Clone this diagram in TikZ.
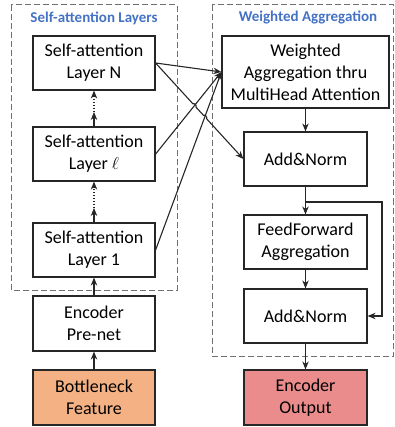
\documentclass[tikz,border=0pt]{standalone}
\usepackage{fontspec}
\setmainfont{Carlito}
\usetikzlibrary{arrows.meta,calc}
\definecolor{titleblue}{HTML}{4472C4}
\definecolor{bnfill}{HTML}{F4B183}
\definecolor{eofill}{HTML}{EA8C8C}
\definecolor{dashgray}{HTML}{707070}
\definecolor{linedark}{HTML}{262626}
\begin{document}
\begin{tikzpicture}[x=1pt,y=-1pt,
  box/.style={draw=linedark,line width=1.2pt,minimum width=122pt,minimum height=54pt,align=center,inner sep=0pt,font=\fontsize{18}{22}\selectfont},
  dashbox/.style={draw=dashgray,line width=1pt,dash pattern=on 6pt off 3pt},
  title/.style={font=\fontsize{15}{18}\selectfont\bfseries,text=titleblue},
  arr/.style={draw=linedark,line width=1.1pt,-{Stealth[length=8pt,width=6.5pt]}},
  dots/.style={dash pattern=on 1.2pt off 1.8pt},
  ]
\useasboundingbox (0,0) rectangle (394,427);
% dashed groups
\draw[dashbox] (11,5) rectangle (177,290);
\draw[dashbox] (212,5) rectangle (393.5,356);
\node[title] (t1) at (94,18) {Self-attention Layers};
\node[title] (t2) at (308,18) {Weighted Aggregation};
% left column
\node[box] (lN) at (94,63) {Self-attention\\Layer N};
\node[box] (ll) at (94,154) {Self-attention\\Layer $\ell$};
\node[box] (l1) at (94,250) {Self-attention\\Layer 1};
\node[box,minimum height=55pt] (pre) at (94,323.5) {Encoder\\Pre-net};
\node[box,minimum height=55pt,fill=bnfill] (bn) at (94,397.5) {Bottleneck\\Feature};
% right column
\node[box,minimum width=167pt,minimum height=72pt] (wa) at (305.5,72) {Weighted\\Aggregation thru\\MultiHead Attention};
\node[box,minimum width=123pt] (an1) at (305.5,159) {Add\&Norm};
\node[box,minimum width=123pt] (ff) at (305.5,242) {FeedForward\\Aggregation};
\node[box,minimum width=123pt] (an2) at (305.5,316) {Add\&Norm};
\node[box,minimum width=123pt,minimum height=55pt,fill=eofill] (eo) at (305.5,397.5) {Encoder\\Output};
% vertical arrows, left
\draw[arr] (bn.north) -- (pre.south);
\draw[arr] (pre.north) -- (l1.south);
\coordinate (m1) at (94,208);
\coordinate (m2) at (94,112);
\draw[arr] (l1.north) -- (m1);
\draw[arr,dots] (m1) -- (ll.south);
\draw[arr] (ll.north) -- (m2);
\draw[arr,dots] (m2) -- (lN.south);
% connectors to aggregation
\draw[arr] (lN.east) -- (wa.west);
\draw[arr] (ll.east) -- (wa.west);
\draw[arr] (l1.east) -- (wa.west);
\draw[arr] (lN.east) -- ($(lN.east)!0.425!(an1.west)$) to[bend left=80] ($(lN.east)!0.46!(an1.west)$) -- ($(lN.east)!0.545!(an1.west)$) to[bend left=80] ($(lN.east)!0.58!(an1.west)$) -- (an1.west);
% vertical arrows, right
\draw[arr] (wa.south) -- (an1.north);
\draw[arr] (an1.south) -- (ff.north);
\draw[arr] (ff.south) -- (an2.north);
\draw[arr] (an2.south) -- (eo.north);
% skip connection
\coordinate (sk) at (305.5,202);
\coordinate (skx) at (382,202);
\draw[arr] (sk) -- (skx) |- (an2.east);
\end{tikzpicture}
\end{document}
